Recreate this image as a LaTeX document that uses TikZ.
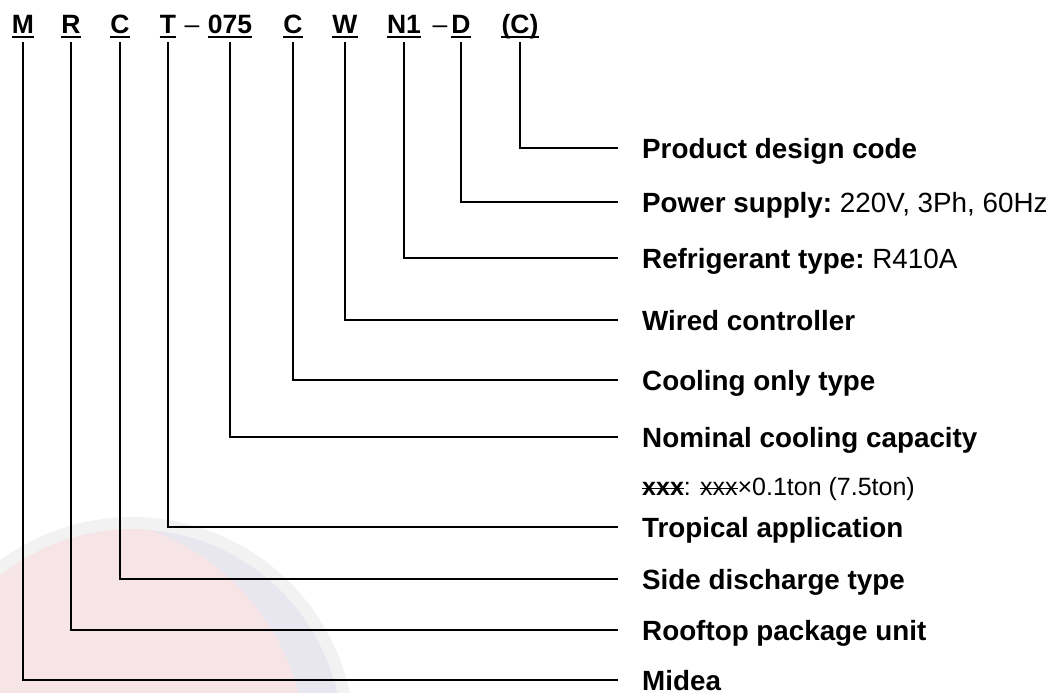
\documentclass[tikz,border=0pt]{standalone}
\usepackage{fontspec}
\setmainfont{Liberation Sans}
\newsavebox\strkbox
\newcommand\strk[1]{\sbox\strkbox{#1}\rlap{\usebox\strkbox}\rule[0.23em]{\wd\strkbox}{1.4pt}}
\definecolor{wmpink}{HTML}{F7E4E7}
\definecolor{wmblue}{HTML}{E8E7EF}
\definecolor{wmgray}{HTML}{F2F2F2}
\begin{document}
\begin{tikzpicture}[x=1pt,y=-1pt,
  codetxt/.style={font=\fontsize{26.5}{30}\selectfont\bfseries, inner sep=0pt, anchor=base},
  dashtxt/.style={font=\fontsize{26.5}{30}\selectfont, inner sep=0pt, anchor=base},
  labeltxt/.style={font=\fontsize{27.8}{32}\selectfont\bfseries, inner sep=0pt, anchor=west, text height=20pt, text depth=0pt},
  notetxt/.style={font=\fontsize{25}{30}\selectfont, inner sep=0pt, anchor=base west},
  wire/.style={line width=1.8pt, black, shorten >=24pt},
  uline/.style={line width=2pt, black}]
\useasboundingbox (0,0) rectangle (1058,693);
% watermark
\begin{scope}
  \clip (132,740) circle[radius=211pt];
  \fill[wmblue] (132,740) circle[radius=211pt];
  \fill[wmpink] (70,752) circle[radius=236pt];
\end{scope}
\draw[wmgray, line width=12pt] (132,740) circle[radius=217pt];
% code letters
\node[codetxt] (cM) at (23,34) {M};
\node[codetxt] (cR) at (71,34) {R};
\node[codetxt] (cC) at (120,34) {C};
\node[codetxt] (cT) at (168,34) {T};
\node[dashtxt] (d1) at (192,34) {–};
\node[codetxt] (c075) at (230,34) {075};
\node[codetxt] (cC2) at (293,34) {C};
\node[codetxt] (cW) at (345,34) {W};
\node[codetxt] (cN) at (404,34) {N1};
\node[dashtxt] (d2) at (440,34) {–};
\node[codetxt] (cD) at (461,34) {D};
\node[codetxt] (cCC) at (520,34) {(C)};
\foreach \n in {cM,cR,cC,cT,c075,cC2,cW,cN,cD,cCC}
  \draw[uline] ([yshift=-3pt]\n.base west) -- ([yshift=-3pt]\n.base east);
% labels
\node[labeltxt] (lCC) at (642,148) {Product design code};
\node[labeltxt] (lD) at (642,202) {Power supply:\mdseries\ 220V, 3Ph, 60Hz};
\node[labeltxt] (lN) at (642,258) {Refrigerant type:\mdseries\ R410A};
\node[labeltxt] (lW) at (642,320) {Wired controller};
\node[labeltxt] (lC2) at (642,380) {Cooling only type};
\node[labeltxt] (l075) at (642,437) {Nominal cooling capacity};
\node[notetxt] (note) at (642,495) {\textbf{\strk{xxx}}: \strk{xxx}×0.1ton (7.5ton)};
\node[labeltxt] (lT) at (642,527) {Tropical application};
\node[labeltxt] (lC) at (642,579) {Side discharge type};
\node[labeltxt] (lR) at (642,630) {Rooftop package unit};
\node[labeltxt] (lM) at (642,680) {Midea};
% connectors
\draw[wire] ([yshift=-8pt]cCC.base) |- (lCC.west);
\draw[wire] ([yshift=-8pt]cD.base) |- (lD.west);
\draw[wire] ([yshift=-8pt]cN.base) |- (lN.west);
\draw[wire] ([yshift=-8pt]cW.base) |- (lW.west);
\draw[wire] ([yshift=-8pt]cC2.base) |- (lC2.west);
\draw[wire] ([yshift=-8pt]c075.base) |- (l075.west);
\draw[wire] ([yshift=-8pt]cT.base) |- (lT.west);
\draw[wire] ([yshift=-8pt]cC.base) |- (lC.west);
\draw[wire] ([yshift=-8pt]cR.base) |- (lR.west);
\draw[wire] ([yshift=-8pt]cM.base) |- (lM.west);
\end{tikzpicture}
\end{document}
